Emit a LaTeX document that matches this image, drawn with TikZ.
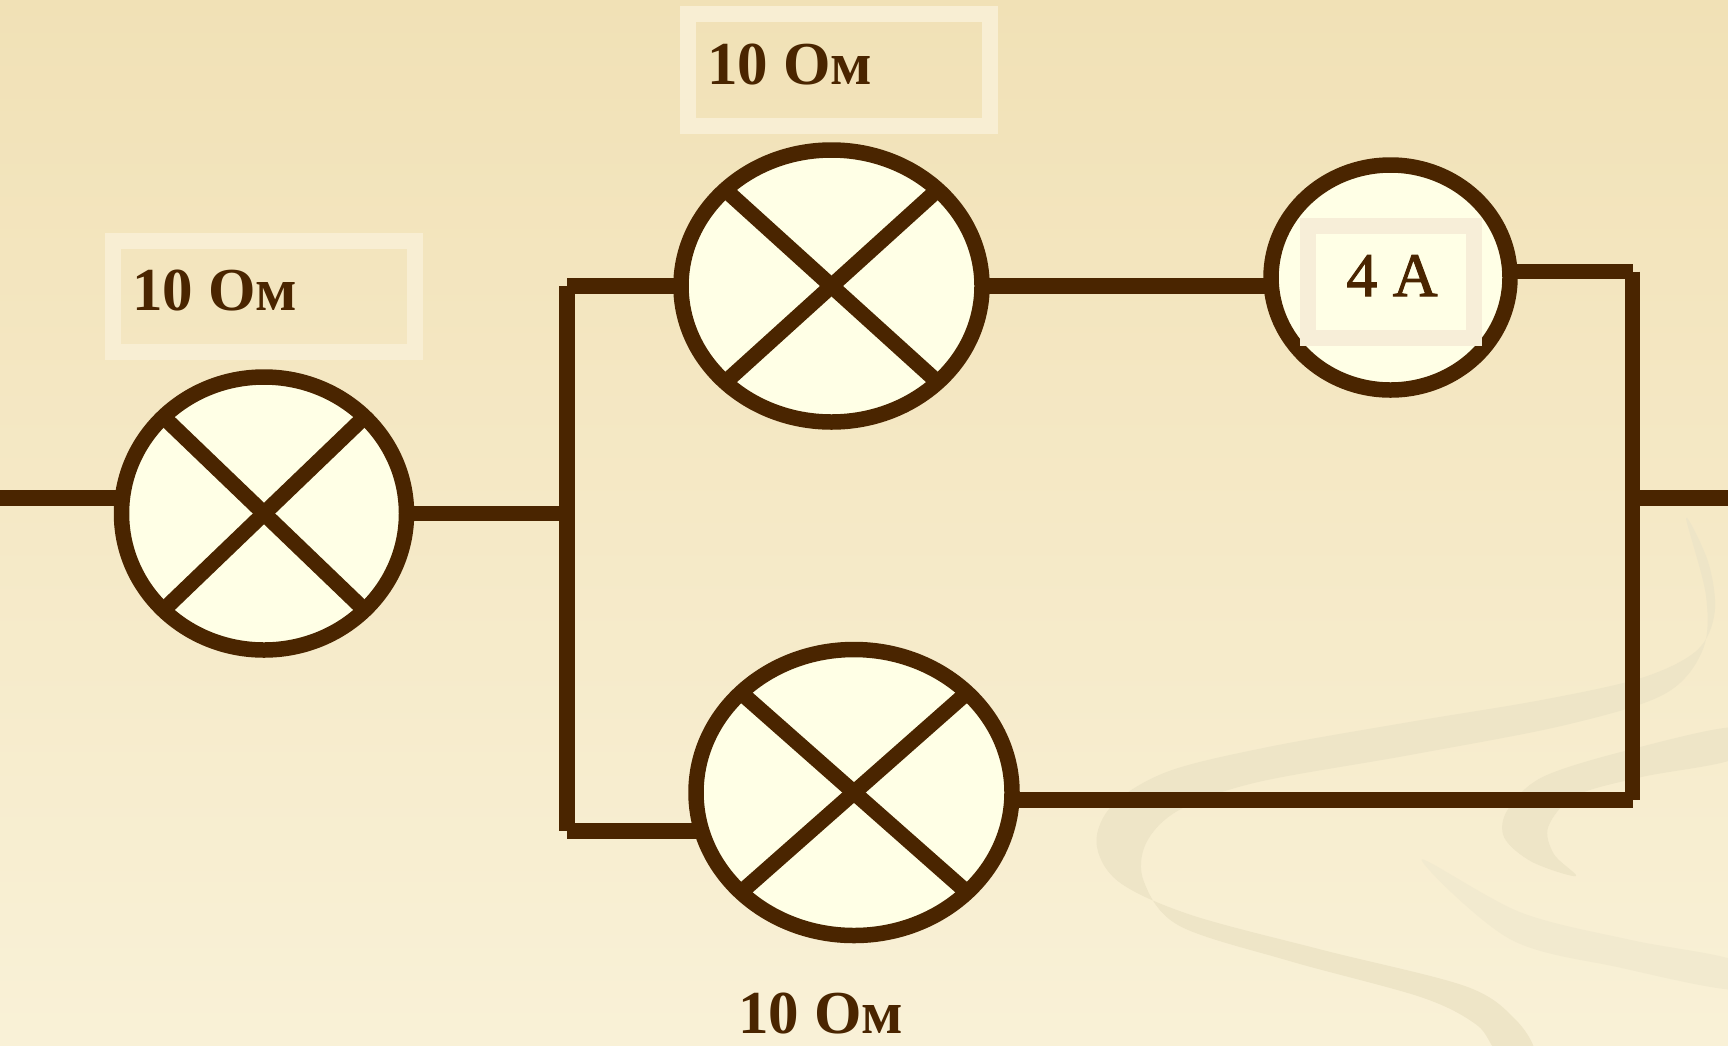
\documentclass[tikz,border=0pt]{standalone}
\usepackage{fontspec}
\setmainfont{Liberation Serif}
\newfontfamily\amfont[FakeBold=1.6]{Liberation Serif}
\usetikzlibrary{shapes.geometric}
\pgfdeclarelayer{bg}
\pgfdeclarelayer{wires}
\pgfsetlayers{bg,wires,main}
\definecolor{wire}{HTML}{4A2500}
\definecolor{lampfill}{HTML}{FFFFE6}
\definecolor{bgtop}{HTML}{F1E1B6}
\definecolor{bgbot}{HTML}{F9F1D7}
\definecolor{swirl}{HTML}{EEE5C7}
\definecolor{swirlb}{HTML}{F2EACF}
\definecolor{frame}{HTML}{F8EED3}
\definecolor{ambox}{HTML}{F7EED8}
\begin{document}
\begin{tikzpicture}[x=1pt,y=-1pt,
  lamp/.style={ellipse, draw=wire, fill=lampfill, line width=15.5pt, inner sep=0pt},
  wireline/.style={draw=wire, line width=15.5pt, line cap=butt},
  labelbox/.style={draw=frame, line width=16pt, inner sep=0pt},
  valtext/.style={text=wire, font=\fontsize{61}{68}\selectfont\bfseries, inner sep=0pt, anchor=base west},
  amtext/.style={text=wire, font=\amfont\fontsize{62}{70}\selectfont, inner sep=0pt, anchor=base},
]
\useasboundingbox (0,0) rectangle (1728,1045);
\begin{pgfonlayer}{bg}
  \shade[top color=bgtop, bottom color=bgbot] (0,0) rectangle (1728,1045);
  \begin{scope}[scale=1.1020]
    \fill[swirl] plot[smooth cycle, tension=0.55] coordinates {
      (1530,470) (1550,510) (1556,555) (1540,590) (1490,615) (1400,635) (1280,655)
      (1150,678) (1060,700) (1010,730) (995,765) (1015,800) (1080,830) (1200,862)
      (1330,895) (1375,925) (1392,955) (1360,955) (1340,930) (1290,905) (1170,872)
      (1070,840) (1038,800) (1040,765) (1070,735) (1140,710) (1280,685) (1420,658)
      (1510,630) (1545,590) (1548,540)};
    \fill[swirl] plot[smooth cycle, tension=0.55] coordinates {
      (1575,660) (1480,680) (1400,705) (1368,735) (1365,760) (1390,782) (1430,795)
      (1410,775) (1405,750) (1430,722) (1490,705) (1575,688)};
    \fill[swirlb] plot[smooth cycle, tension=0.55] coordinates {
      (1290,780) (1380,828) (1480,853) (1575,872) (1575,898) (1470,878) (1370,852)};
  \end{scope}
\end{pgfonlayer}

% components
\node[lamp, minimum width=285pt, minimum height=273pt] (L1) at (264,513.5) {};
\node[lamp, minimum width=301pt, minimum height=272pt] (L2) at (831.5,286) {};
\node[lamp, minimum width=316pt, minimum height=286pt] (L3) at (854,792.5) {};
\node[lamp, minimum width=239pt, minimum height=225pt] (A) at (1390.5,277.5) {};

% crosses inside lamps
\draw[wireline] ([shift={(-101,-97)}]L1.center) -- ([shift={(101,97)}]L1.center);
\draw[wireline] ([shift={(101,-97)}]L1.center) -- ([shift={(-101,97)}]L1.center);
\draw[wireline] ([shift={(-106,-96)}]L2.center) -- ([shift={(106,96)}]L2.center);
\draw[wireline] ([shift={(106,-96)}]L2.center) -- ([shift={(-106,96)}]L2.center);
\draw[wireline] ([shift={(-111,-98)}]L3.center) -- ([shift={(111,98)}]L3.center);
\draw[wireline] ([shift={(111,-98)}]L3.center) -- ([shift={(-111,98)}]L3.center);

% ammeter reading box
\node[draw=ambox, fill=lampfill, line width=16pt, inner sep=0pt,
      minimum width=166pt, minimum height=112pt] (AB) at (1391,282) {};
\node[amtext] (AT) at (1392,296) {4 А};

% resistance labels
\node[labelbox, minimum width=302pt, minimum height=111pt] (LB1) at (264,296.5) {};
\node[labelbox, minimum width=302pt, minimum height=112pt] (LB2) at (839,70) {};
\node[valtext] (T1) at (132,310) {10 Ом};
\node[valtext] (T2) at (707,84) {10 Ом};
\node[valtext] (T3) at (738,1033) {10 Ом};

% junction points
\coordinate (IN) at (0,498);
\coordinate (OUT) at (1728,498);
\coordinate (J1) at (567,286);
\coordinate (J2) at (567,513.5);
\coordinate (J3) at (567,831);
\coordinate (K1) at (1632.5,271.5);
\coordinate (K2) at (1632.5,498);
\coordinate (K3) at (1632.5,800);

\begin{pgfonlayer}{wires}
  \draw[wireline] (IN) -- (IN -| L1.center);
  \draw[wireline] (L1.center) -- (J2);
  \draw[wireline] (J1) -- (J3);
  \draw[wireline] (J1) -- (L2.center);
  \draw[wireline] (J3) -- (J3 -| L3.center);
  \draw[wireline] (L2.center) -- (L2.center -| A.center);
  \draw[wireline] (A.center |- K1) -- (K1);
  \draw[wireline] (K1) -- (K3);
  \draw[wireline] (K3) -- (K3 -| L3.center);
  \draw[wireline] (K2) -- (OUT);
\end{pgfonlayer}
\end{tikzpicture}
\end{document}
